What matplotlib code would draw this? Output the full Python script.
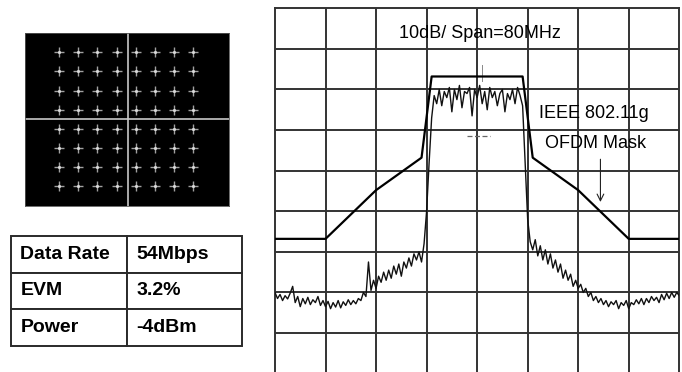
import numpy as np
import matplotlib
matplotlib.use("Agg")
from matplotlib import pyplot as plt

plt.rcParams['font.family'] = ['Liberation Sans', 'DejaVu Sans']

# 64-QAM constellation levels (I and Q)
qam_levels = [-7, -5, -3, -1, 1, 3, 5, 7]

# table contents
table_rows = [["Data Rate", "54Mbps"],
              ["EVM", "3.2%"],
              ["Power", "-4dBm"]]

# IEEE 802.11g OFDM spectral mask (MHz, dBr) and its reference level on screen
mask_freq = [-40, -30, -20, -11, -9, 9, 11, 20, 30, 40]
mask_dbr = [-40, -40, -28, -20, 0, 0, -20, -28, -40, -40]
mask_ref = -16.8

# measured spectrum, one reading every 0.5 MHz from -40 to +40 MHz (dB on screen)
trace_level = [
    -70.0, -71.5, -70.5, -72.0, -70.8, -71.6, -70.2, -68.5, -72.5, -71.0,
    -73.5, -71.5, -72.8, -71.2, -73.0, -71.8, -72.5, -71.0, -73.2, -72.0,
    -73.5, -72.2, -74.0, -72.5, -73.6, -72.0, -73.8, -72.3, -73.2, -71.8,
    -73.0, -72.0, -72.8, -71.5, -72.0, -70.0, -71.0, -62.5, -69.5, -67.0,
    -69.0, -66.0, -67.5, -65.0, -67.0, -64.5, -66.5, -63.5, -65.5, -63.0,
    -66.0, -62.5, -64.0, -61.5, -63.5, -60.5, -62.0, -60.0, -62.5, -58.0,
    -50.0, -38.0, -27.0, -21.5, -23.5, -20.0, -24.0, -20.5, -22.0, -19.5,
    -25.5, -20.0, -22.5, -19.0, -24.5, -20.5, -21.0, -19.5, -26.5, -20.0,
    -22.0, -19.0, -23.5, -20.5, -25.0, -19.5, -22.0, -20.5, -24.0, -21.0,
    -20.0, -25.5, -21.0, -22.5, -20.0, -23.5, -19.5, -21.5, -24.0, -38.0,
    -52.0, -57.5, -59.5, -57.0, -61.0, -58.5, -62.0, -59.5, -63.0, -60.5,
    -64.0, -62.0, -65.0, -63.0, -66.5, -64.5, -67.0, -65.5, -68.5, -67.0,
    -69.0, -68.0, -70.0, -69.0, -71.0, -70.0, -72.0, -71.0, -72.5, -71.5,
    -73.0, -72.0, -73.5, -72.3, -73.0, -72.0, -74.0, -72.5, -73.2, -72.0,
    -74.0, -72.5, -73.0, -71.8, -72.8, -71.5, -73.0, -71.5, -72.5, -71.0,
    -72.0, -71.2, -72.5, -70.5, -71.8, -70.2, -71.5, -70.0, -71.2, -70.0,
    -70.8,
]
trace_freq = np.linspace(-40, 40, len(trace_level))

fig = plt.figure(figsize=(6.82, 3.72), dpi=100)

# ---- constellation ----
ax_c = fig.add_axes([0.0367, 0.4462, 0.299, 0.465])
ax_c.set_facecolor('black')
ax_c.axhline(0, color='#c8c8c8', lw=1.2)
ax_c.axvline(0.2, color='#c8c8c8', lw=1.2)
ii, qq = np.meshgrid(qam_levels, qam_levels)
ax_c.plot(ii.ravel(), qq.ravel(), '+', color='#a0a0a0', ms=6.5, mew=1.0)
ax_c.plot(ii.ravel(), qq.ravel(), '.', color='#d8d8d8', ms=2.5)
ax_c.set_xlim(-10.55, 10.73)
ax_c.set_ylim(-9.14, 9.04)
ax_c.set_xticks([])
ax_c.set_yticks([])
for s in ax_c.spines.values():
    s.set_color('#555555')
    s.set_linewidth(0.6)

# ---- table ----
ax_t = fig.add_axes([0.0161, 0.0707, 0.3392, 0.2949])
ax_t.axis('off')
tbl = ax_t.table(cellText=table_rows, bbox=[0, 0, 1, 1],
                 colWidths=[0.503, 0.497], cellLoc='left')
tbl.auto_set_font_size(False)
for (r, c), cell in tbl.get_celld().items():
    cell.set_edgecolor('#2a2a2a')
    cell.set_linewidth(1.4)
    cell.PAD = 0.08
    cell.get_text().set_fontsize(14)
    cell.get_text().set_fontweight('bold')

# ---- spectrum ----
ax = fig.add_axes([0.4032, 0.0, 0.5928, 0.9777])
grid_c = '#333333'
for x in range(-30, 40, 10):
    ax.axvline(x, color=grid_c, lw=1.4, zorder=1)
for y in range(-10, -89, -10):
    ax.axhline(y, color=grid_c, lw=1.4, zorder=1)
ax.set_xlim(-40, 40)
ax.set_ylim(-89.6, 0)
ax.set_xticks([])
ax.set_yticks([])
for k in ['left', 'top', 'right']:
    ax.spines[k].set_color(grid_c)
    ax.spines[k].set_linewidth(1.4)
ax.spines['bottom'].set_visible(False)

ax.plot(trace_freq, trace_level, color='#111111', lw=1.0, zorder=3)
ax.plot(mask_freq, [mask_ref + d for d in mask_dbr], color='black', lw=1.6, zorder=4)

# marker remnants
ax.plot([-2.1, 2.5], [-31.5, -31.5], color='#666666', lw=0.9, ls=(0, (4, 2)), zorder=2)
ax.plot([1.05, 1.05], [-14, -18], color='#888888', lw=0.7, zorder=2)

ax.text(0.6, -6.1, "10dB/ Span=80MHz", ha='center', va='center', fontsize=13, zorder=5)
ax.text(12.3, -25.9, "IEEE 802.11g", ha='left', va='center', fontsize=13, zorder=5)
ax.text(23.4, -33.4, "OFDM Mask", ha='center', va='center', fontsize=13, zorder=5)
ax.annotate("", xy=(24.4, -48.4), xytext=(24.4, -36.5),
            arrowprops=dict(arrowstyle='->', color='#222222', lw=0.8,
                            mutation_scale=12))

fig.savefig("out.png", dpi=100)
